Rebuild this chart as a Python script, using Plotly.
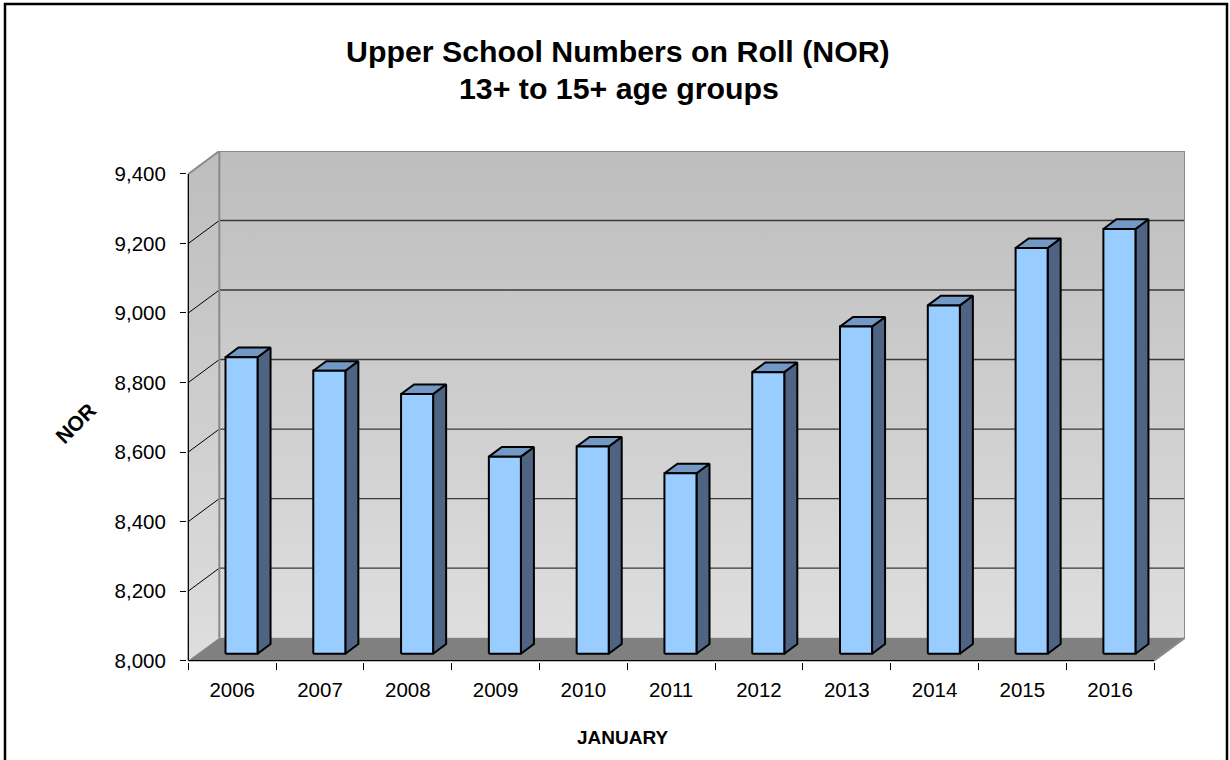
import plotly.graph_objects as go

# ---------------- data ----------------
years = ["2006", "2007", "2008", "2009", "2010", "2011", "2012", "2013", "2014", "2015", "2016"]
nor = [8853, 8814, 8747, 8567, 8596, 8519, 8810, 8941, 9002, 9167, 9222]
y_ticks = [8000, 8200, 8400, 8600, 8800, 9000, 9200, 9400]
title_line1 = "Upper School Numbers on Roll (NOR)"
title_line2 = "13+ to 15+ age groups"
x_title = "JANUARY"
y_title = "NOR"

# ---------------- layout constants ----------------
W, H = 1230, 760
ML, MR, MT, MB = 187, 45, 151, 98
PW, PH = W - ML - MR, H - MT - MB
FONT = "Liberation Sans, Arial, sans-serif"

Y_MIN, Y_MAX = y_ticks[0], y_ticks[-1]
DX, DY = 0.353, 66.0          # depth of the 3-D box (axis units)
BAR_D0, BAR_D1 = 0.30, 0.72   # bar front / back depth fraction
BAR_W = 0.365
n = len(years)
XL, XR = -0.5, n - 0.5
X_LO, X_HI = XL - 0.015, XR + DX
Y_LO, Y_HI = Y_MIN - 4, Y_MAX + DY


def px_x(px):
    return (px - ML) / PW


def px_y(py):
    return (H - MB - py) / PH


def polys(list_of_pts):
    xs, ys = [], []
    for pts in list_of_pts:
        for (a, b) in pts:
            xs.append(a)
            ys.append(b)
        xs.append(pts[0][0])
        ys.append(pts[0][1])
        xs.append(None)
        ys.append(None)
    return xs, ys


def segs(list_of_segs):
    xs, ys = [], []
    for (a, b), (c, d) in list_of_segs:
        xs += [a, c, None]
        ys += [b, d, None]
    return xs, ys


fig = go.Figure()

wall_grad = dict(type="vertical", colorscale=[[0, "#DEDEDE"], [1, "#BDBDBD"]])

# side wall
side_wall = [(XL, Y_MIN), (XL + DX, Y_MIN + DY), (XL + DX, Y_MAX + DY), (XL, Y_MAX)]
xs, ys = polys([side_wall])
fig.add_trace(go.Scatter(x=xs, y=ys, fill="toself", mode="none", fillgradient=wall_grad,
                         hoverinfo="skip", showlegend=False))
# back wall
back_wall = [(XL + DX, Y_MIN + DY), (XR + DX, Y_MIN + DY), (XR + DX, Y_MAX + DY), (XL + DX, Y_MAX + DY)]
xs, ys = polys([back_wall])
fig.add_trace(go.Scatter(x=xs, y=ys, fill="toself", mode="none", fillgradient=wall_grad,
                         hoverinfo="skip", showlegend=False))
# floor
floor = [(XL, Y_MIN), (XR, Y_MIN), (XR + DX, Y_MIN + DY), (XL + DX, Y_MIN + DY)]
xs, ys = polys([floor])
fig.add_trace(go.Scatter(x=xs, y=ys, fill="toself", mode="none", fillcolor="#808080",
                         hoverinfo="skip", showlegend=False))

# back-wall gridlines
inner = [t for t in y_ticks if Y_MIN < t < Y_MAX]
xs, ys = segs([((XL + DX, t + DY), (XR + DX, t + DY)) for t in inner])
fig.add_trace(go.Scatter(x=xs, y=ys, mode="lines", line=dict(color="#3A3A3A", width=1.4),
                         hoverinfo="skip", showlegend=False))
# side-wall gridlines
xs, ys = segs([((XL, t), (XL + DX, t + DY)) for t in inner])
fig.add_trace(go.Scatter(x=xs, y=ys, mode="lines", line=dict(color="#000000", width=1),
                         hoverinfo="skip", showlegend=False))
# wall edges (gray)
edges = [
    ((XL + DX, Y_MIN + DY), (XL + DX, Y_MAX + DY)),
    ((XL + DX, Y_MAX + DY), (XR + DX, Y_MAX + DY)),
    ((XR + DX, Y_MIN + DY), (XR + DX, Y_MAX + DY)),
    ((XL, Y_MAX), (XL + DX, Y_MAX + DY)),
    ((XR, Y_MIN), (XR + DX, Y_MIN + DY)),
]
xs, ys = segs(edges)
fig.add_trace(go.Scatter(x=xs, y=ys, mode="lines", line=dict(color="#8A8A8A", width=2),
                         hoverinfo="skip", showlegend=False))
# front axis lines
xs, ys = segs([((XL, Y_MIN), (XL, Y_MAX)), ((XL, Y_MIN), (XR, Y_MIN))])
fig.add_trace(go.Scatter(x=xs, y=ys, mode="lines", line=dict(color="#000000", width=1.3),
                         hoverinfo="skip", showlegend=False))

# bars
ddx, ddy = (BAR_D1 - BAR_D0) * DX, (BAR_D1 - BAR_D0) * DY
fronts, sides, tops = [], [], []
for i, v in enumerate(nor):
    x0 = i + BAR_D0 * DX - BAR_W / 2
    x1 = x0 + BAR_W
    yb = Y_MIN + BAR_D0 * DY
    yt = v + BAR_D0 * DY
    fronts.append([(x0, yb), (x1, yb), (x1, yt), (x0, yt)])
    sides.append([(x1, yb), (x1 + ddx, yb + ddy), (x1 + ddx, yt + ddy), (x1, yt)])
    tops.append([(x0, yt), (x1, yt), (x1 + ddx, yt + ddy), (x0 + ddx, yt + ddy)])

for shapes_, col in ((sides, "#4F6382"), (tops, "#7199C4")):
    xs, ys = polys(shapes_)
    fig.add_trace(go.Scatter(x=xs, y=ys, fill="toself", fillcolor=col, mode="lines",
                             line=dict(color="#000000", width=2), hoverinfo="skip",
                             showlegend=False))
xs, ys = polys(fronts)
fig.add_trace(go.Scatter(x=xs, y=ys, fill="toself", fillcolor="#99CCFF", mode="lines",
                         line=dict(color="#000000", width=2), hoverinfo="skip",
                         showlegend=False))
# hover points
fig.add_trace(go.Scatter(x=[i + BAR_D0 * DX for i in range(n)],
                         y=[v + BAR_D0 * DY for v in nor], mode="markers",
                         marker=dict(opacity=0), customdata=nor, text=years,
                         hovertemplate="%{text}: %{customdata:,}<extra></extra>",
                         showlegend=False))

fig.update_layout(
    width=W, height=H,
    margin=dict(l=ML, r=MR, t=MT, b=MB),
    paper_bgcolor="white", plot_bgcolor="white",
    font=dict(family=FONT, color="black"),
    showlegend=False,
    xaxis=dict(range=[X_LO, X_HI], showgrid=False, zeroline=False, showline=False,
               tickmode="array", tickvals=list(range(n)), ticktext=years, ticks="",
               tickfont=dict(size=20.5, color="black", family=FONT),
               ticklabelstandoff=13,
               minor=dict(tickmode="array", tickvals=[i - 0.5 for i in range(n + 1)],
                          ticks="outside", ticklen=7, tickcolor="black", tickwidth=1,
                          showgrid=False)),
    yaxis=dict(range=[Y_LO, Y_HI], showgrid=False, zeroline=False, showline=False,
               tickmode="array", tickvals=y_ticks, tickformat=",", ticks="outside",
               ticklen=6, tickcolor="black", tickwidth=1,
               tickfont=dict(size=20.5, color="black", family=FONT),
               ticklabelstandoff=10),
    annotations=[
        dict(text="<b>" + title_line1 + "</b>", xref="paper", yref="paper",
             x=px_x(618), y=px_y(51), xanchor="center", yanchor="middle",
             showarrow=False, font=dict(size=30.3, family=FONT, color="black")),
        dict(text="<b>" + title_line2 + "</b>", xref="paper", yref="paper",
             x=px_x(619), y=px_y(89), xanchor="center", yanchor="middle",
             showarrow=False, font=dict(size=30.3, family=FONT, color="black")),
        dict(text="<b>" + x_title + "</b>", xref="paper", yref="paper",
             x=px_x(622), y=px_y(737), xanchor="center", yanchor="middle",
             showarrow=False, font=dict(size=19, family=FONT, color="black")),
        dict(text="<b>" + y_title + "</b>", xref="paper", yref="paper",
             x=px_x(75), y=px_y(423), xanchor="center", yanchor="middle", textangle=-45,
             showarrow=False, font=dict(size=21, family=FONT, color="black")),
    ],
    shapes=[
        dict(type="rect", xref="paper", yref="paper",
             x0=px_x(5), x1=px_x(1227), y0=px_y(4), y1=px_y(775),
             line=dict(color="black", width=2.5), fillcolor="rgba(0,0,0,0)", layer="above"),
    ],
)

fig.write_html("out.html", config={"displayModeBar": False},
               post_script="document.body.style.margin='0px';")
